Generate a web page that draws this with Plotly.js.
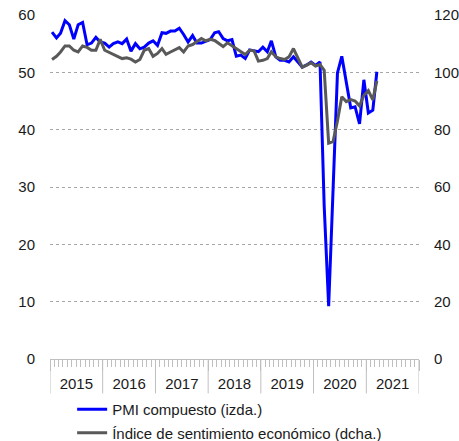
<!DOCTYPE html>
<html>
<head>
<meta charset="utf-8">
<script src="https://cdn.plot.ly/plotly-3.0.1.min.js"></script>
<style>html,body{margin:0;padding:0;background:#fff;}#chart{width:459px;height:441px;}</style>
</head>
<body>
<div id="chart"></div>
<script>
// Monthly data, January 2015 to March 2021
const startYear = 2015;
const years = ['2015', '2016', '2017', '2018', '2019', '2020', '2021'];

// PMI compuesto (left axis)
const pmi2015 = [57.0, 56.0, 56.8, 59.0, 58.3, 55.8, 58.3, 58.7, 54.8, 55.1, 56.1, 55.3];
const pmi2016 = [55.1, 54.4, 55.0, 55.3, 55.0, 55.8, 53.7, 55.0, 54.1, 54.4, 55.1, 55.5];
const pmi2017 = [54.7, 56.9, 56.8, 57.2, 57.2, 57.7, 56.6, 55.3, 56.4, 55.1, 55.1, 55.4];
const pmi2018 = [55.7, 56.9, 57.1, 55.9, 55.5, 55.7, 52.8, 53.0, 52.4, 53.9, 53.8, 53.6];
const pmi2019 = [54.4, 53.6, 55.5, 52.7, 52.1, 52.1, 51.8, 52.7, 51.8, 50.9, 51.3, 51.8];
const pmi2020 = [51.2, 51.8, 26.7, 9.2, 29.2, 49.9, 52.8, 48.4, 43.8, 44.0, 41.0, 48.7];
const pmi2021 = [42.9, 43.4, 50.1];

// Índice de sentimiento económico (right axis)
const ise2015 = [104.5, 105.6, 107.1, 109.2, 109.2, 107.7, 107.1, 109.2, 108.7, 107.7, 107.7, 111.5];
const ise2016 = [107.7, 107.0, 106.2, 105.6, 104.8, 105.1, 104.6, 103.6, 104.5, 107.7, 108.3, 105.6];
const ise2017 = [106.6, 108.3, 106.3, 107.1, 107.7, 108.6, 107.1, 109.2, 109.7, 110.6, 111.8, 111.0];
const ise2018 = [111.5, 111.1, 110.2, 109.0, 110.3, 109.2, 108.3, 107.1, 106.2, 107.7, 107.5, 103.9];
const ise2019 = [104.2, 104.8, 107.2, 105.4, 104.8, 104.5, 105.4, 108.3, 104.8, 101.8, 102.5, 103.3];
const ise2020 = [102.2, 102.7, 100.7, 75.3, 75.8, 83.0, 91.5, 89.8, 90.5, 90.0, 88.3, 92.0];
const ise2021 = [93.6, 90.4, 97.0];

const pmi = [].concat(pmi2015, pmi2016, pmi2017, pmi2018, pmi2019, pmi2020, pmi2021);
const ise = [].concat(ise2015, ise2016, ise2017, ise2018, ise2019, ise2020, ise2021);

function monthDate(i) {
  const d = new Date(Date.UTC(startYear, i, 15));
  return d.toISOString().slice(0, 10);
}
const xPmi = pmi.map((v, i) => monthDate(i));
const xIse = ise.map((v, i) => monthDate(i));

const xStart = years[0] + '-01-01';
const xEnd = (parseInt(years[years.length - 1]) + 1) + '-01-01';

const FONT = 'Liberation Sans, Arial, sans-serif';

const traces = [
  {
    x: xPmi, y: pmi, type: 'scatter', mode: 'lines',
    name: 'PMI compuesto (izda.)',
    line: {color: '#0000ff', width: 3},
    xaxis: 'x', yaxis: 'y', legendgroup: 'a'
  },
  {
    x: xIse, y: ise, type: 'scatter', mode: 'lines',
    name: 'Índice de sentimiento económico (dcha.)',
    line: {color: '#595959', width: 3},
    xaxis: 'x', yaxis: 'y2', legendgroup: 'b'
  }
];

// Year separators below the bottom axis
const boundaries = years.map(y => y + '-01-01').concat([xEnd]);
const shapes = boundaries.map(b => ({
  type: 'line', xref: 'x', yref: 'paper',
  x0: b, x1: b, y0: 0, y1: -0.1, line: {color: '#bfbfbf', width: 1}
}));

const layout = {
  width: 459, height: 441,
  margin: {l: 50, r: 40, t: 15, b: 82, autoexpand: false},
  paper_bgcolor: '#ffffff', plot_bgcolor: '#ffffff',
  font: {family: FONT, size: 15, color: '#1a1a1a'},
  showlegend: true,
  legend: {
    orientation: 'v', x: 0.06, xanchor: 'left', y: -0.099, yanchor: 'top',
    font: {family: FONT, size: 15, color: '#1a1a1a'},
    tracegroupgap: 1, bgcolor: 'rgba(0,0,0,0)'
  },
  xaxis: {
    type: 'date', range: [xStart, xEnd],
    tick0: xStart, dtick: 'M12', tickformat: '%Y', ticklabelmode: 'period',
    ticks: 'outside', ticklen: 11, tickcolor: '#bfbfbf', tickwidth: 1,
    minor: {dtick: 'M1', tick0: xStart, ticks: 'outside', ticklen: 7, tickcolor: '#bfbfbf', tickwidth: 1, showgrid: false},
    showline: true, linecolor: '#bfbfbf', linewidth: 1,
    showgrid: false, zeroline: false, fixedrange: true,
    tickfont: {family: FONT, size: 15, color: '#1a1a1a'}
  },
  xaxis2: {
    type: 'date', range: [xStart, xEnd], overlaying: 'x', anchor: 'free', position: 50 / 60, side: 'bottom',
    tick0: xStart, dtick: 'M1',
    ticks: 'outside', ticklen: 4, tickcolor: '#bfbfbf', tickwidth: 1,
    showticklabels: false, showline: true, linecolor: '#000000', linewidth: 1,
    showgrid: false, zeroline: false
  },
  yaxis: {
    range: [0, 60], dtick: 10, tick0: 0,
    showgrid: true, gridcolor: '#a6a6a6', griddash: 'dot', gridwidth: 1,
    zeroline: false, showline: false,
    ticks: 'outside', ticklen: 11, tickcolor: 'rgba(0,0,0,0)',
    tickfont: {family: FONT, size: 15, color: '#1a1a1a'}
  },
  yaxis2: {
    range: [0, 120], dtick: 20, tick0: 0, overlaying: 'y', side: 'right',
    showgrid: false, zeroline: false, showline: false,
    ticks: 'outside', ticklen: 11, tickcolor: 'rgba(0,0,0,0)',
    tickfont: {family: FONT, size: 15, color: '#1a1a1a'}
  },
  shapes: shapes
};

Plotly.newPlot('chart', traces, layout, {displayModeBar: false, staticPlot: true});
</script>
</body>
</html>
